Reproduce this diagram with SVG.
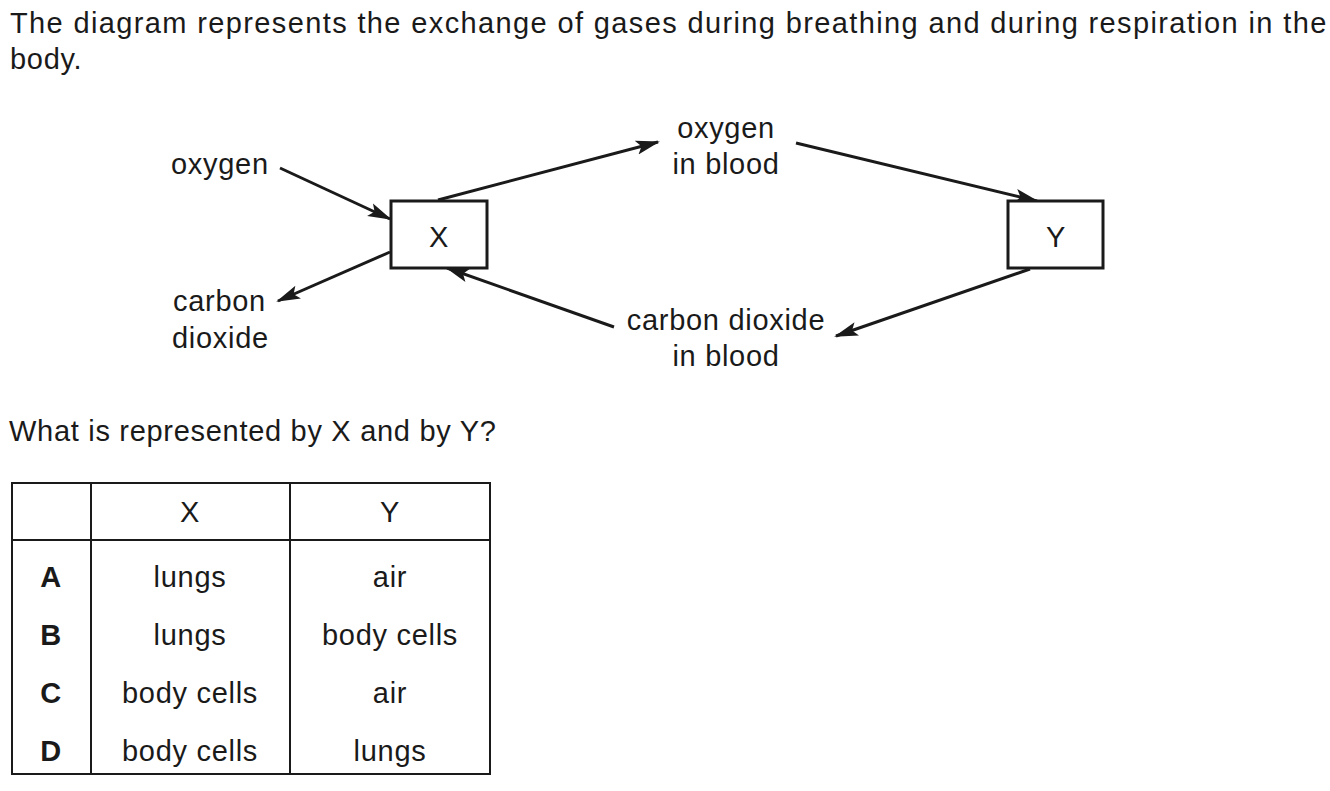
<svg xmlns="http://www.w3.org/2000/svg" width="1330" height="791" viewBox="0 0 1330 791">
<style>
text{font-family:"Liberation Sans",Arial,sans-serif;font-size:29px;letter-spacing:0.7px;fill:#1a1a1a}
.c{text-anchor:middle}
.b{font-weight:bold}
.box{fill:#fff;stroke:#1a1a1a;stroke-width:3}
.conn line{stroke:#1a1a1a;stroke-width:3;marker-end:url(#ah)}
.tbl{fill:none;stroke:#1a1a1a;stroke-width:2}
</style>
<defs>
<marker id="ah" markerUnits="userSpaceOnUse" markerWidth="24" markerHeight="16" viewBox="0 0 24 16" refX="22" refY="8" orient="auto">
<path d="M0,1 L24,8 L0,15 L5,8 Z" fill="#1a1a1a"/>
</marker>
</defs>
<rect width="1330" height="791" fill="#fff"/>
<g id="title">
<text x="10" y="33" textLength="1317" lengthAdjust="spacing">The diagram represents the exchange of gases during breathing and during respiration in the</text>
<text x="10" y="69">body.</text>
</g>
<g class="conn" id="connectors">
<line x1="280" y1="168" x2="390" y2="219"/>
<line x1="390" y1="252" x2="278" y2="301"/>
<line x1="438" y1="200" x2="658" y2="142"/>
<line x1="796" y1="143" x2="1037" y2="201"/>
<line x1="1030" y1="269" x2="836" y2="336"/>
<line x1="614" y1="327" x2="447" y2="268"/>
</g>
<g id="node-X"><rect class="box" x="391" y="201" width="96" height="67"/><text class="c" x="439" y="247">X</text></g>
<g id="node-Y"><rect class="box" x="1008" y="201" width="95" height="67"/><text class="c" x="1056" y="247">Y</text></g>
<g id="label-oxygen"><text x="171" y="174">oxygen</text></g>
<g id="label-co2"><text x="173" y="311">carbon</text><text x="172" y="348">dioxide</text></g>
<g id="label-oxygen-blood"><text class="c" x="726" y="138">oxygen</text><text class="c" x="726" y="174">in blood</text></g>
<g id="label-co2-blood"><text class="c" x="726" y="330">carbon dioxide</text><text class="c" x="726" y="366">in blood</text></g>
<g id="question"><text x="9" y="441">What is represented by X and by Y?</text></g>
<g id="table">
<rect class="tbl" x="12" y="483" width="478" height="291"/>
<line class="tbl" x1="91" y1="483" x2="91" y2="774"/>
<line class="tbl" x1="290" y1="483" x2="290" y2="774"/>
<line class="tbl" x1="12" y1="540" x2="490" y2="540"/>
<text class="c" x="190" y="522">X</text><text class="c" x="390" y="522">Y</text>
<text class="c b" x="51" y="587">A</text><text class="c" x="190" y="587">lungs</text><text class="c" x="390" y="587">air</text>
<text class="c b" x="51" y="645">B</text><text class="c" x="190" y="645">lungs</text><text class="c" x="390" y="645">body cells</text>
<text class="c b" x="51" y="703">C</text><text class="c" x="190" y="703">body cells</text><text class="c" x="390" y="703">air</text>
<text class="c b" x="51" y="761">D</text><text class="c" x="190" y="761">body cells</text><text class="c" x="390" y="761">lungs</text>
</g>
</svg>
